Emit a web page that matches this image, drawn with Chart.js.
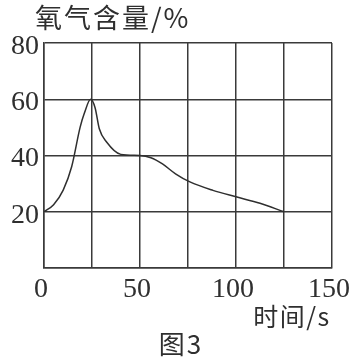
<!DOCTYPE html>
<html><head><meta charset="utf-8">
<script src="https://cdn.jsdelivr.net/npm/chart.js@4/dist/chart.umd.min.js"></script>
<style>html,body{margin:0;padding:0;background:#fff}#wrap{width:351px;height:359px}</style>
</head><body><div id="wrap"><canvas id="c" width="351" height="359"></canvas></div>
<script>
const timeS = [0, 5, 10, 14.4, 18.8, 21, 24.3, 26.6, 28.8, 32.6, 40, 50, 55.7, 61.7, 68.5, 76, 88, 100, 112.5, 125];
const oxygen = [20, 22.5, 27.7, 36, 50, 55, 60, 57, 49.5, 44.8, 40.4, 40, 39.2, 37, 33.5, 30.6, 27.6, 25.3, 23, 20];
const yTickLabels = [20, 40, 60, 80];
const xTickLabels = [0, 50, 100, 150];
const yTitle = '氧气含量/%';
const xTitle = '时间/s';
const figCaption = '图3';

const ink = '#2f2f2f';
const textPlugin = {
  id: 'texts',
  afterDraw(chart) {
    const ctx = chart.ctx;
    ctx.save();
    ctx.fillStyle = ink;
    ctx.textBaseline = 'middle';
    ctx.textAlign = 'left';
    ctx.font = '27px "Noto Sans CJK SC"';
    ctx.letterSpacing = '2px';
    ctx.fillText(yTitle, 35, 18);
    ctx.textAlign = 'center';
    ctx.font = '25px "Noto Sans CJK SC"';
    ctx.letterSpacing = '1.5px';
    ctx.fillText(xTitle, 292, 316);
    ctx.font = '26px "Noto Sans CJK SC"';
    ctx.letterSpacing = '2px';
    ctx.fillText(figCaption, 181, 344);
    ctx.restore();
  }
};

new Chart(document.getElementById('c'), {
  type: 'line',
  data: {
    datasets: [{
      data: timeS.map((t, i) => ({x: t, y: oxygen[i]})),
      borderColor: ink,
      borderWidth: 1.5,
      pointRadius: 0,
      fill: false,
      cubicInterpolationMode: 'monotone'
    }]
  },
  options: {
    responsive: false,
    animation: false,
    layout: {padding: {top: 43, right: 19, left: 0, bottom: 0}},
    plugins: {legend: {display: false}, tooltip: {enabled: false}, title: {display: false}},
    scales: {
      x: {
        type: 'linear', min: 0, max: 150,
        ticks: {
          stepSize: 25, padding: 5, color: ink, labelOffset: -3,
          font: {family: '"Liberation Serif"', size: 28},
          maxRotation: 0, autoSkip: false,
          callback: v => xTickLabels.includes(v) ? String(v) : ''
        },
        grid: {color: '#3a3a3a', lineWidth: 1.5, drawTicks: false},
        border: {color: '#3a3a3a', width: 1.5},
        afterFit: s => { s.height = 91; s.paddingRight = 0; s.paddingLeft = 0; }
      },
      y: {
        type: 'linear', min: 0, max: 80,
        ticks: {
          stepSize: 10, padding: 5, color: ink, labelOffset: 3.5,
          font: {family: '"Liberation Serif"', size: 28},
          callback: v => yTickLabels.includes(v) ? String(v) : ''
        },
        grid: {color: '#3a3a3a', lineWidth: 1.5, drawTicks: false},
        border: {color: '#3a3a3a', width: 1.5},
        afterFit: s => { s.width = 44; s.paddingTop = 0; s.paddingBottom = 0; }
      }
    }
  },
  plugins: [textPlugin]
});
</script></body></html>
